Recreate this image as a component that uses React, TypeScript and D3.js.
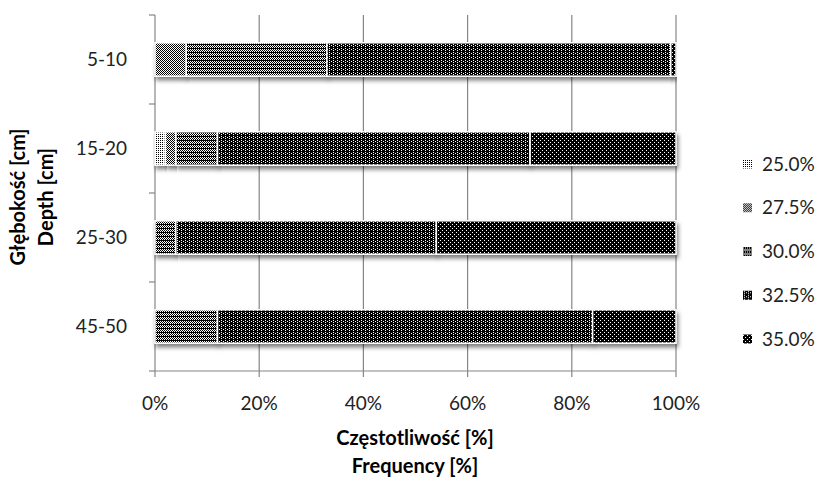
import React from "react";
import * as d3 from "d3";

const categories = ["5-10", "15-20", "25-30", "45-50"];
const seriesNames = ["25.0%", "27.5%", "30.0%", "32.5%", "35.0%"];
const s250 = [0, 2, 0, 0];
const s275 = [6, 2, 0, 0];
const s300 = [27, 8, 4, 12];
const s325 = [66, 60, 50, 72];
const s350 = [1, 28, 46, 16];
const xTicks = [0, 20, 40, 60, 80, 100];

const seriesValues = [s250, s275, s300, s325, s350];

// 4x4 bitmaps (1 = black) for the fill patterns
const bitmaps = [
  ["1010", "0000", "1010", "0000"],
  ["1010", "0101", "1010", "0101"],
  ["1111", "0101", "1010", "0101"],
  ["1011", "1110", "1011", "1111"],
  ["0111", "1111", "1101", "1111"],
];

const W = 823;
const H = 478;
const margin = { left: 155, right: 676, top: 15, bottom: 371 };
const FONT = "Lato, 'Open Sans', sans-serif";

export default function App() {
  const x = d3.scaleLinear().domain([0, 100]).range([margin.left, margin.right]);
  const y = d3
    .scaleBand()
    .domain(categories)
    .range([margin.top, margin.bottom])
    .paddingInner(0.625)
    .paddingOuter(0.3125);

  const table = categories.map((c, i) => {
    const row: any = { cat: c };
    seriesNames.forEach((s, j) => (row[s] = seriesValues[j][i]));
    return row;
  });
  const stack = d3.stack<any>().keys(seriesNames)(table);

  const legendY = d3.scalePoint().domain(seriesNames).range([164, 339]);
  const step = y.step();

  return (
    <svg
      width={W}
      height={H}
      style={{ position: "absolute", left: 0, top: 0, background: "#fff" }}
    >
      <defs>
        {bitmaps.map((bm, k) => (
          <pattern
            key={k}
            id={`pat${k}`}
            width={4}
            height={4}
            patternUnits="userSpaceOnUse"
          >
            <rect width={4} height={4} fill="#fff" />
            {bm.flatMap((row, r) =>
              row.split("").map((ch, c) =>
                ch === "1" ? (
                  <rect key={`${r}-${c}`} x={c} y={r} width={1} height={1} fill="#000" shapeRendering="crispEdges" />
                ) : null
              )
            )}
          </pattern>
        ))}
        <filter id="shadow" x="-10%" y="-30%" width="120%" height="180%">
          <feDropShadow dx={1.5} dy={3.5} stdDeviation={2} floodColor="#000" floodOpacity={0.5} />
        </filter>
      </defs>

      {/* gridlines */}
      {xTicks.slice(1).map((t) => (
        <line key={t} x1={x(t)} x2={x(t)} y1={margin.top} y2={margin.bottom} stroke="#868686" strokeWidth={1.2} />
      ))}
      {/* y axis */}
      <line x1={x(0)} x2={x(0)} y1={margin.top} y2={margin.bottom} stroke="#868686" strokeWidth={1.2} />
      {categories.map((c, i) => (
        <line
          key={c}
          x1={x(0) - 6}
          x2={x(0)}
          y1={margin.top + step * (i + 1)}
          y2={margin.top + step * (i + 1)}
          stroke="#868686"
          strokeWidth={1.2}
        />
      ))}
      <line x1={x(0) - 6} x2={x(0)} y1={margin.top} y2={margin.top} stroke="#868686" strokeWidth={1.2} />
      {/* x axis */}
      <line x1={x(0)} x2={x(100)} y1={margin.bottom} y2={margin.bottom} stroke="#868686" strokeWidth={1.2} />
      {xTicks.map((t) => (
        <line key={t} x1={x(t)} x2={x(t)} y1={margin.bottom} y2={margin.bottom + 6} stroke="#868686" strokeWidth={1.2} />
      ))}

      {/* bars */}
      {stack.map((layer, k) => (
        <g key={layer.key}>
          {layer.map((d, i) =>
            d[1] - d[0] > 0 ? (
              <rect
                key={i}
                x={x(d[0])}
                y={y(categories[i])!}
                width={x(d[1]) - x(d[0])}
                height={y.bandwidth()}
                fill={`url(#pat${k})`}
                stroke="#fff"
                strokeWidth={1.5}
                filter="url(#shadow)"
              />
            ) : null
          )}
        </g>
      ))}

      {/* category labels */}
      {categories.map((c) => (
        <text
          key={c}
          x={127}
          y={y(c)! + y.bandwidth() / 2}
          dy="0.35em"
          textAnchor="end"
          fontFamily={FONT}
          fontSize={19}
          fill="#222"
        >
          {c}
        </text>
      ))}

      {/* x tick labels */}
      {xTicks.map((t) => (
        <text key={t} x={x(t)} y={410} textAnchor="middle" fontFamily={FONT} fontSize={19} fill="#222">
          {`${t}%`}
        </text>
      ))}

      {/* x title */}
      <text x={415} y={445} textAnchor="middle" fontFamily={FONT} fontSize={20} fontWeight="bold" fill="#000">
        Częstotliwość [%]
      </text>
      <text x={415} y={473} textAnchor="middle" fontFamily={FONT} fontSize={20} fontWeight="bold" fill="#000">
        Frequency [%]
      </text>

      {/* y title */}
      <g transform="translate(0,197) rotate(-90)">
        <text x={0} y={25} textAnchor="middle" fontFamily={FONT} fontSize={20} fontWeight="bold" fill="#000">
          Głębokość [cm]
        </text>
        <text x={0} y={53} textAnchor="middle" fontFamily={FONT} fontSize={20} fontWeight="bold" fill="#000">
          Depth [cm]
        </text>
      </g>

      {/* legend */}
      {seriesNames.map((s, k) => (
        <g key={s} transform={`translate(743,${legendY(s)})`}>
          <rect x={0} y={-4.5} width={9} height={9} fill={`url(#pat${k})`} />
          <text x={19} y={0} dy="0.35em" fontFamily={FONT} fontSize={19} fill="#222">
            {s}
          </text>
        </g>
      ))}
    </svg>
  );
}
